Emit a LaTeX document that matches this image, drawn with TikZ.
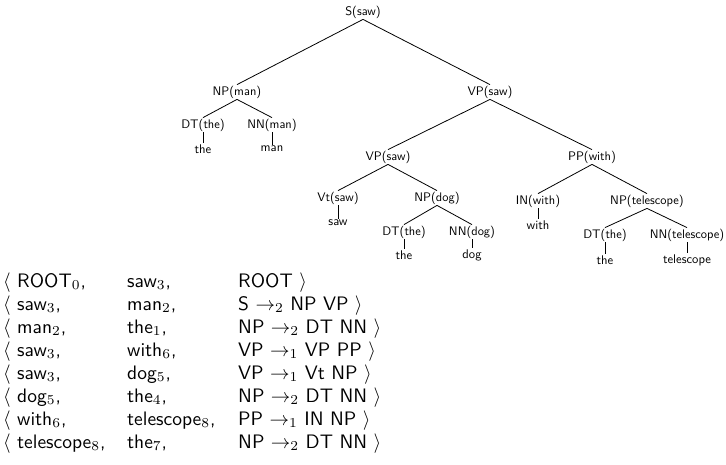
\documentclass[tikz,border=0pt]{standalone}
\newcommand\labtxt[1]{\scalebox{1.24}{#1}}
\newcommand\leaftxt[1]{\scalebox{1.26}{#1}}
\newcommand\tabtxt[1]{\scalebox{1.95}{#1}}
\begin{document}
\begin{tikzpicture}[x=1pt,y=-1pt,
  lab/.style={font=\sffamily\fontsize{10}{12}\selectfont, inner sep=1pt},
  leaf/.style={font=\sffamily\fontsize{10}{12}\selectfont, inner sep=1pt},
  tab/.style={font=\sffamily\fontsize{10}{12}\selectfont, inner sep=0pt, anchor=base west},
  edge/.style={line width=0.8pt}]
\useasboundingbox (0,0) rectangle (726,464);
% tree nodes
\node[lab] (S) at (363,12) {\labtxt{S(saw)}};
\node[lab] (NP1) at (237,92) {\labtxt{NP(man)}};
\node[lab] (VP1) at (490,92) {\labtxt{VP(saw)}};
\node[lab] (DT1) at (203,125) {\labtxt{DT(the)}};
\node[lab] (NN1) at (272,125) {\labtxt{NN(man)}};
\node[leaf] (w1) at (203,149) {\leaftxt{the}};
\node[leaf] (w2) at (272,149) {\leaftxt{man}};
\node[lab] (VP2) at (388,157) {\labtxt{VP(saw)}};
\node[lab] (PP) at (592,157) {\labtxt{PP(with)}};
\node[lab] (Vt) at (338,198) {\labtxt{Vt(saw)}};
\node[leaf] (w3) at (338,223) {\leaftxt{saw}};
\node[lab] (NP2) at (437,198) {\labtxt{NP(dog)}};
\node[lab] (DT2) at (404,232) {\labtxt{DT(the)}};
\node[leaf] (w4) at (404,255) {\leaftxt{the}};
\node[lab] (NN2) at (472,232) {\labtxt{NN(dog)}};
\node[leaf] (w5) at (472,255) {\leaftxt{dog}};
\node[lab] (IN) at (538,201) {\labtxt{IN(with)}};
\node[leaf] (w6) at (538,225) {\leaftxt{with}};
\node[lab] (NP3) at (647,201) {\labtxt{NP(telescope)}};
\node[lab] (DT3) at (605,235) {\labtxt{DT(the)}};
\node[leaf] (w7) at (605,260) {\leaftxt{the}};
\node[lab] (NN3) at (687,235) {\labtxt{NN(telescope)}};
\node[leaf] (w8) at (687,260) {\leaftxt{telescope}};
% edges
\foreach \a/\b in {S/NP1,S/VP1,NP1/DT1,NP1/NN1,DT1/w1,NN1/w2,VP1/VP2,VP1/PP,
  VP2/Vt,VP2/NP2,Vt/w3,NP2/DT2,NP2/NN2,DT2/w4,NN2/w5,PP/IN,PP/NP3,IN/w6,
  NP3/DT3,NP3/NN3,DT3/w7,NN3/w8}
  \draw[edge] (\a.south) -- (\b.north);
% table
\node[tab] (l1) at (3,287) {\tabtxt{$\langle$}};
\node[tab] (a1) at (17,287) {\tabtxt{ROOT$_0$,}};
\node[tab] (b1) at (127,287) {\tabtxt{saw$_3$,}};
\node[tab] (c1) at (238,287) {\tabtxt{ROOT $\rangle$}};
\node[tab] (l2) at (3,310) {\tabtxt{$\langle$}};
\node[tab] (a2) at (17,310) {\tabtxt{saw$_3$,}};
\node[tab] (b2) at (127,310) {\tabtxt{man$_2$,}};
\node[tab] (c2) at (238,310) {\tabtxt{S $\rightarrow_2$ NP VP $\rangle$}};
\node[tab] (l3) at (3,333) {\tabtxt{$\langle$}};
\node[tab] (a3) at (17,333) {\tabtxt{man$_2$,}};
\node[tab] (b3) at (127,333) {\tabtxt{the$_1$,}};
\node[tab] (c3) at (238,333) {\tabtxt{NP $\rightarrow_2$ DT NN $\rangle$}};
\node[tab] (l4) at (3,356) {\tabtxt{$\langle$}};
\node[tab] (a4) at (17,356) {\tabtxt{saw$_3$,}};
\node[tab] (b4) at (127,356) {\tabtxt{with$_6$,}};
\node[tab] (c4) at (238,356) {\tabtxt{VP $\rightarrow_1$ VP PP $\rangle$}};
\node[tab] (l5) at (3,379) {\tabtxt{$\langle$}};
\node[tab] (a5) at (17,379) {\tabtxt{saw$_3$,}};
\node[tab] (b5) at (127,379) {\tabtxt{dog$_5$,}};
\node[tab] (c5) at (238,379) {\tabtxt{VP $\rightarrow_1$ Vt NP $\rangle$}};
\node[tab] (l6) at (3,402) {\tabtxt{$\langle$}};
\node[tab] (a6) at (17,402) {\tabtxt{dog$_5$,}};
\node[tab] (b6) at (127,402) {\tabtxt{the$_4$,}};
\node[tab] (c6) at (238,402) {\tabtxt{NP $\rightarrow_2$ DT NN $\rangle$}};
\node[tab] (l7) at (3,425) {\tabtxt{$\langle$}};
\node[tab] (a7) at (17,425) {\tabtxt{with$_6$,}};
\node[tab] (b7) at (127,425) {\tabtxt{telescope$_8$,}};
\node[tab] (c7) at (238,425) {\tabtxt{PP $\rightarrow_1$ IN NP $\rangle$}};
\node[tab] (l8) at (3,448) {\tabtxt{$\langle$}};
\node[tab] (a8) at (17,448) {\tabtxt{telescope$_8$,}};
\node[tab] (b8) at (127,448) {\tabtxt{the$_7$,}};
\node[tab] (c8) at (238,448) {\tabtxt{NP $\rightarrow_2$ DT NN $\rangle$}};
\end{tikzpicture}
\end{document}
